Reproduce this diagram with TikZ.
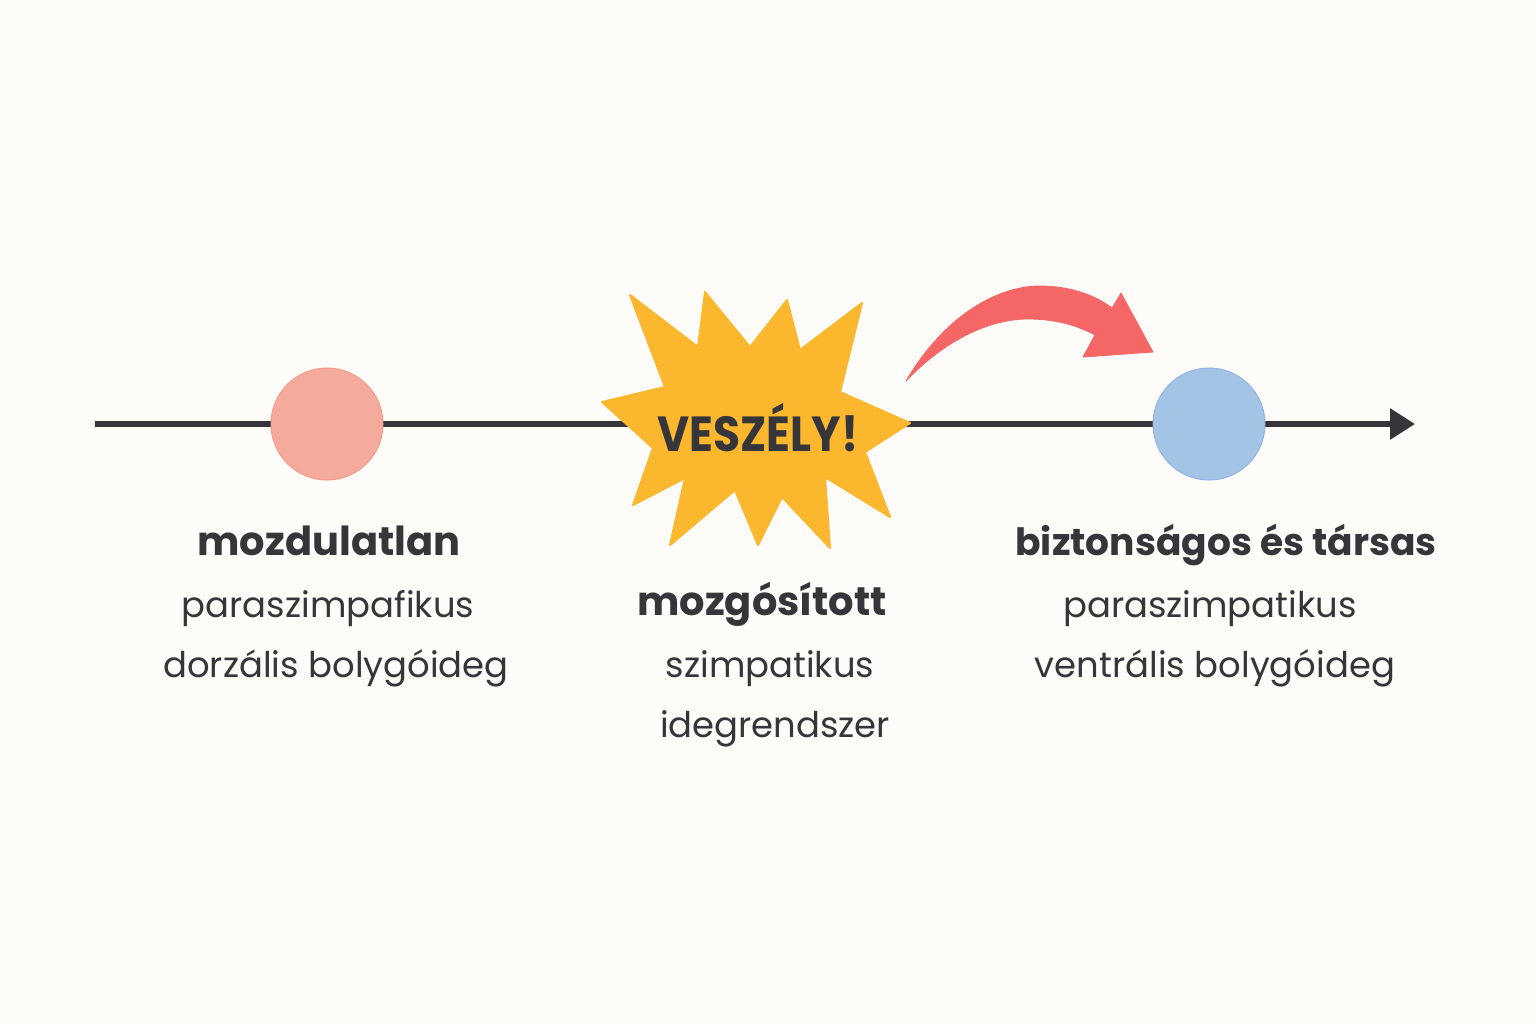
\documentclass[tikz,border=0pt]{standalone}
\usepackage{fontspec}
\setmainfont{Poppins}
\usepackage{tikz}
\usepackage{xcolor}
\usetikzlibrary{arrows.meta}

\definecolor{bgpaper}{RGB}{253,252,249}
\definecolor{inkgray}{RGB}{54,54,58}
\definecolor{calmpink}{RGB}{244,171,156}
\definecolor{safeblue}{RGB}{163,196,228}
\definecolor{burstyellow}{RGB}{251,184,46}
\definecolor{arrowred}{RGB}{245,103,103}

\tikzset{
  statedot/.style={circle,minimum size=56pt,inner sep=0pt,line width=0.5pt},
  headtext/.style={anchor=base,inner sep=0.75pt,text=inkgray,font=\fontsize{20}{22}\selectfont\bfseries},
  bodytext/.style={anchor=base,inner sep=0.75pt,text=inkgray,font=\fontsize{17.7}{19}\selectfont},
}

\begin{document}
\begin{tikzpicture}[x=0.5pt,y=0.5pt,yscale=-1,xscale=1]
%set diagram left start at 0, and has height of 1024
\path [fill=bgpaper] (0,0) rectangle (1536,1024);

%Straight Lines [id:axis]
\coordinate (start) at (95,424);
\coordinate (end) at (1415,424);
\draw [color=inkgray,line width=3pt,-{Triangle[length=12.5pt,width=15pt]}] (start) -- (end);

%Shape: Star [id:burst]
\draw [fill=burstyellow,draw=burstyellow,line join=round,line width=1pt] (630,295) -- (698,347) -- (705,292) -- (750,347) -- (787,300) -- (800,350) -- (862,303) -- (840,392) -- (910,423) -- (865,452) -- (890,517) -- (825,477) -- (830,548) -- (782,497) -- (758,545) -- (735,490) -- (670,545) -- (685,478) -- (633,505) -- (653,448) -- (602,402) -- (665,387) -- cycle;

%Shape: Circle [id:frozen]
\node [statedot,fill=calmpink,draw=calmpink!90!red] (frozen) at (327,424) {};
%Shape: Circle [id:safe]
\node [statedot,fill=safeblue,draw=safeblue!90!blue] (safe) at (1209,424) {};

%Curve Lines [id:shift]
\draw [fill=arrowred,draw=arrowred,line join=round] (906,381) .. controls (943,318) and (995,286) .. (1040,286) .. controls (1070,286) and (1095,295) .. (1112,308) -- (1121,293) -- (1153,352) -- (1083,357) -- (1095,335) .. controls (1075,324) and (1052,319) .. (1028,319) .. controls (983,319) and (938,347) .. (906,381) -- cycle;

% Text Node
\node [anchor=center,inner sep=0.75pt,text=inkgray,font=\fontsize{22}{24}\selectfont\bfseries] (danger) at (758,428) {\scalebox{1}[1.12]{VESZÉLY!}};
% Text Node
\node [headtext] (frozenhead) at (329,555) {mozdulatlan};
% Text Node
\node [bodytext] (frozenone) at (328,617) {paraszimpafikus};
% Text Node
\node [bodytext] (frozentwo) at (336,677) {dorzális bolygóideg};
% Text Node
\node [headtext] (mobhead) at (762,615) {mozgósított};
% Text Node
\node [bodytext] (mobone) at (770,677) {szimpatikus};
% Text Node
\node [bodytext] (mobtwo) at (775,737) {idegrendszer};
% Text Node
\node [headtext,font=\fontsize{18.8}{21}\selectfont\bfseries] (safehead) at (1226,555) {biztonságos és társas};
% Text Node
\node [bodytext] (safeone) at (1210,617) {paraszimpatikus};
% Text Node
\node [bodytext] (safetwo) at (1215,677) {ventrális bolygóideg};
\end{tikzpicture}
\end{document}
